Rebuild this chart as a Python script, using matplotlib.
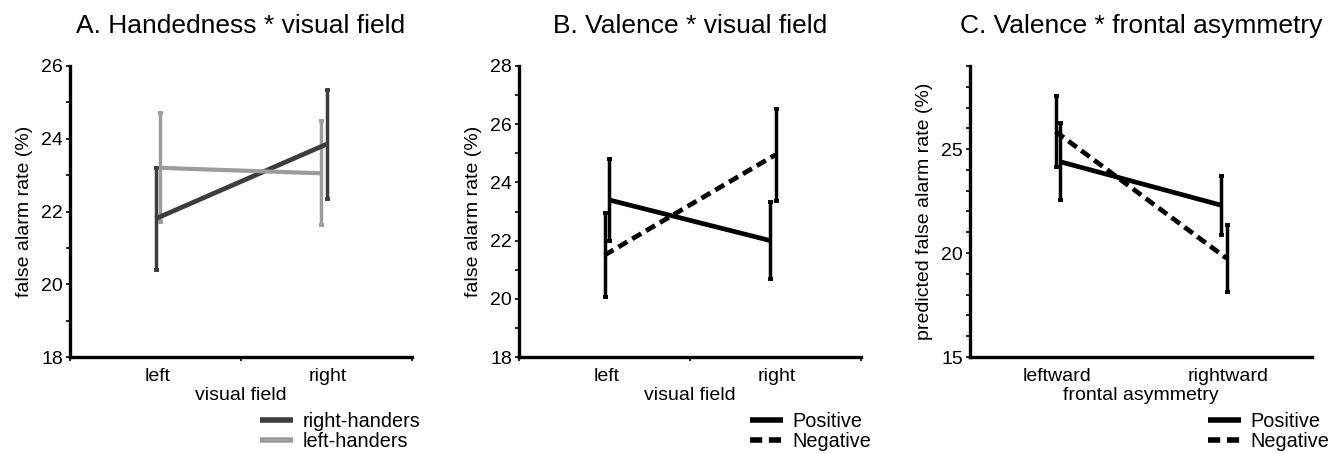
import numpy as np
import matplotlib
matplotlib.use("Agg")
import matplotlib.pyplot as plt
from matplotlib.ticker import MultipleLocator

plt.rcParams["font.family"] = ["Liberation Sans", "DejaVu Sans"]

# Source data
field_labels = ["left", "right"]
asym_labels = ["leftward", "rightward"]

# A. handedness * visual field
a_right_mean = [21.8, 23.85]
a_right_err = [1.4, 1.5]
a_left_mean = [23.2, 23.05]
a_left_err = [1.5, 1.43]

# B. valence * visual field
b_pos_mean = [23.4, 22.0]
b_pos_err = [1.42, 1.33]
b_neg_mean = [21.5, 24.95]
b_neg_err = [1.45, 1.58]

# C. valence * frontal asymmetry (predicted)
c_pos_mean = [24.4, 22.3]
c_pos_err = [1.85, 1.42]
c_neg_mean = [25.85, 19.75]
c_neg_err = [1.7, 1.6]

# layout
W, H = 1331, 454
fig = plt.figure(figsize=(W / 100, H / 100), dpi=100)

x_outer = np.array([1.0, 3.0])
x_inner = x_outer + np.array([0.05, -0.06])

DARK = "#3d3d3d"
LIGHT = "#9c9c9c"
SMALL = 14
DASH = (0, (2.2, 1.2))


def make_axes(left_px, ylim, major, minor, title, ylabel, xlabel, cats, mid_tick=True):
    ax = fig.add_axes([left_px / W, (H - 357) / H, 342 / W, 291 / H])
    ax.set_xlim(0, 4)
    ax.set_ylim(*ylim)
    for s in ["top", "right"]:
        ax.spines[s].set_visible(False)
    for s in ["left", "bottom"]:
        ax.spines[s].set_linewidth(2.4)
    ax.yaxis.set_major_locator(MultipleLocator(major))
    ax.yaxis.set_minor_locator(MultipleLocator(minor))
    ax.tick_params(axis="y", which="both", length=3, width=1.2, pad=2, labelsize=SMALL)
    if mid_tick:
        ax.set_xticks([0, 2, 4], labels=["", "", ""])
    else:
        ax.set_xticks([])
    ax.set_xticks(x_outer + 0.02, labels=cats, minor=True)
    ax.tick_params(axis="x", which="major", length=3, width=1.2)
    ax.tick_params(axis="x", which="minor", length=0, pad=8, labelsize=SMALL)
    ax.set_title(title, fontsize=19, pad=24)
    ax.set_ylabel(ylabel, fontsize=SMALL, labelpad=6)
    ax.set_xlabel(xlabel, fontsize=SMALL, labelpad=1)
    return ax


def draw(ax, x, mean, err, color, ls, lw=3.4, label=None):
    ax.errorbar(x, mean, yerr=err, color=color, lw=2.5, capsize=1.8, capthick=2.8,
                fmt="none", zorder=2)
    ax.plot(x, mean, color=color, lw=lw, ls=ls, label=label, zorder=3,
            solid_capstyle="butt", dash_capstyle="butt")


# Panel A
axA = make_axes(70, (18, 26), 2, 1, "A. Handedness * visual field",
                "false alarm rate (%)", "visual field", field_labels)
draw(axA, x_outer, a_right_mean, a_right_err, DARK, "-", label="right-handers")
draw(axA, x_inner, a_left_mean, a_left_err, LIGHT, "-", lw=3.0, label="left-handers")

# Panel B
axB = make_axes(519, (18, 28), 2, 1, "B. Valence * visual field",
                "false alarm rate (%)", "visual field", field_labels)
draw(axB, x_inner, b_pos_mean, b_pos_err, "black", "-", label="Positive")
draw(axB, x_outer, b_neg_mean, b_neg_err, "black", DASH, label="Negative")

# Panel C
axC = make_axes(970, (15, 29), 5, 1, "C. Valence * frontal asymmetry",
                "predicted false alarm rate (%)", "frontal asymmetry", asym_labels,
                mid_tick=False)
draw(axC, x_inner, c_pos_mean, c_pos_err, "black", "-", label="Positive")
draw(axC, x_outer, c_neg_mean, c_neg_err, "black", DASH, label="Negative")

# legends below each panel
for ax, lx in [(axA, 260), (axB, 750), (axC, 1208)]:
    leg = fig.legend(*ax.get_legend_handles_labels(), loc="upper left",
                     bbox_to_anchor=(lx / W, 1 - 412 / H), frameon=False, fontsize=14.3,
                     borderpad=0, borderaxespad=0, handlelength=1.65, handletextpad=0.5,
                     labelspacing=0.05)
    for h in leg.legend_handles:
        h.set_linewidth(4.0)

fig.savefig("out.png", dpi=100)
